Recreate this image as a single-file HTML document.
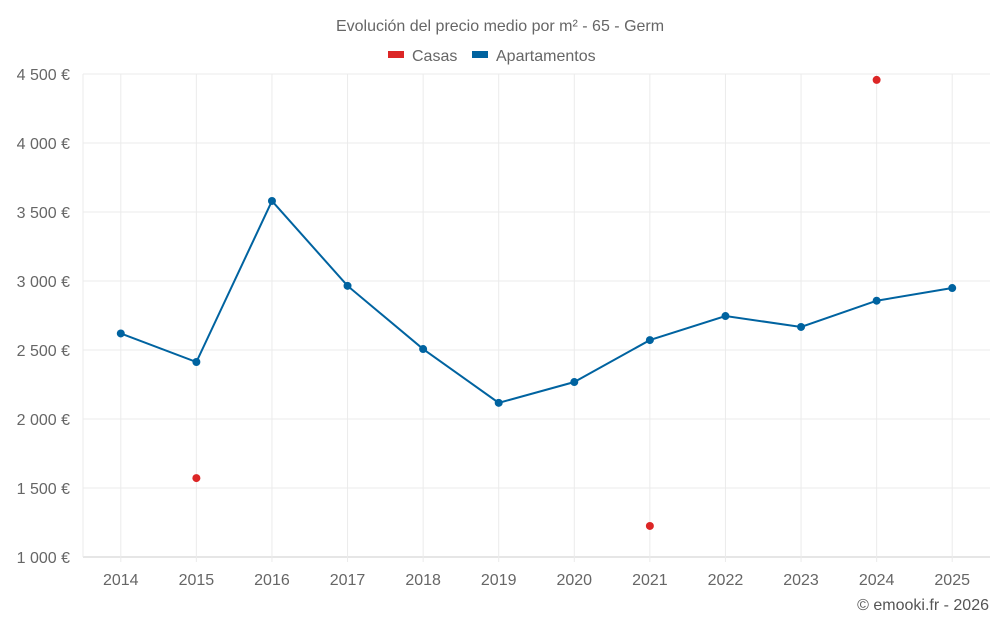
<!DOCTYPE html>
<html><head><meta charset="utf-8"><style>
body{margin:0;background:#fff;font-family:"Liberation Sans",sans-serif}
svg text{font-family:"Liberation Sans",sans-serif}
</style></head><body>
<svg id="chart" width="1000" height="625" viewBox="0 0 1000 625">
<text x="500" y="31" text-anchor="middle" font-size="16" fill="#666">Evolución del precio medio por m² - 65 - Germ</text>
<g>
<rect x="388" y="51" width="16" height="7" fill="#dc2626"/>
<text x="412" y="61" font-size="16" fill="#666">Casas</text>
<rect x="472" y="51" width="16" height="7" fill="#0063a0"/>
<text x="496" y="61" font-size="16" fill="#666">Apartamentos</text>
</g>
<g id="grid"></g><g id="axes"></g><g id="series"></g>
<text x="989" y="610" text-anchor="end" font-size="16" fill="#555">© emooki.fr - 2026</text>
</svg>
<script>
const years=[2014,2015,2016,2017,2018,2019,2020,2021,2022,2023,2024,2025];
const apartamentos=[2620,2413,3580,2965,2507,2117,2268,2572,2746,2667,2857,2949];
const casas=[null,1572,null,null,null,null,null,1225,null,null,4457,null];
const yTicks=[1000,1500,2000,2500,3000,3500,4000,4500];
const yTickLabels=["1 000 €","1 500 €","2 000 €","2 500 €","3 000 €","3 500 €","4 000 €","4 500 €"];
const L=83,R=990,T=74,B=557,yMin=1000,yMax=4500;
const step=(R-L)/years.length;
const x=i=>L+step*(i+0.5);
const y=v=>B-(v-yMin)/(yMax-yMin)*(B-T);
const NS="http://www.w3.org/2000/svg";
function mk(tag,attrs,parent){const e=document.createElementNS(NS,tag);for(const k in attrs)e.setAttribute(k,attrs[k]);document.getElementById(parent).appendChild(e);return e;}
yTicks.forEach((t,i)=>{
 const g=mk('line',{x1:L,x2:R,y1:y(t),y2:y(t),stroke:i==0?'#ccc':'#ebebeb'},'grid');
 
 
 const tx=mk('text',{x:70,y:y(t)+6,'text-anchor':'end','font-size':16,fill:'#666'},'axes');
 tx.textContent=yTickLabels[i];
 
 
});
const l0=mk('line',{x1:L,x2:L,y1:T,y2:B,stroke:'#ebebeb'},'grid');


years.forEach((yr,i)=>{
 const g=mk('line',{x1:x(i),x2:x(i),y1:T,y2:B+5,stroke:'#ebebeb'},'grid');
 
 
 const tx=mk('text',{x:x(i),y:585,'text-anchor':'middle','font-size':16,fill:'#666'},'axes');
 tx.textContent=yr;
 
 
});
const pts=apartamentos.map((v,i)=>x(i)+','+y(v)).join(' ');
const pl=mk('polyline',{points:pts,fill:'none',stroke:'#0063a0','stroke-width':2},'series');


apartamentos.forEach((v,i)=>{
 const c=mk('circle',{cx:x(i),cy:y(v),r:4,fill:'#0063a0'},'series');
 
 
});
casas.forEach((v,i)=>{
 if(v==null)return;
 const c=mk('circle',{cx:x(i),cy:y(v),r:4,fill:'#dc2626'},'series');
 
 
});
</script>
</body></html>
